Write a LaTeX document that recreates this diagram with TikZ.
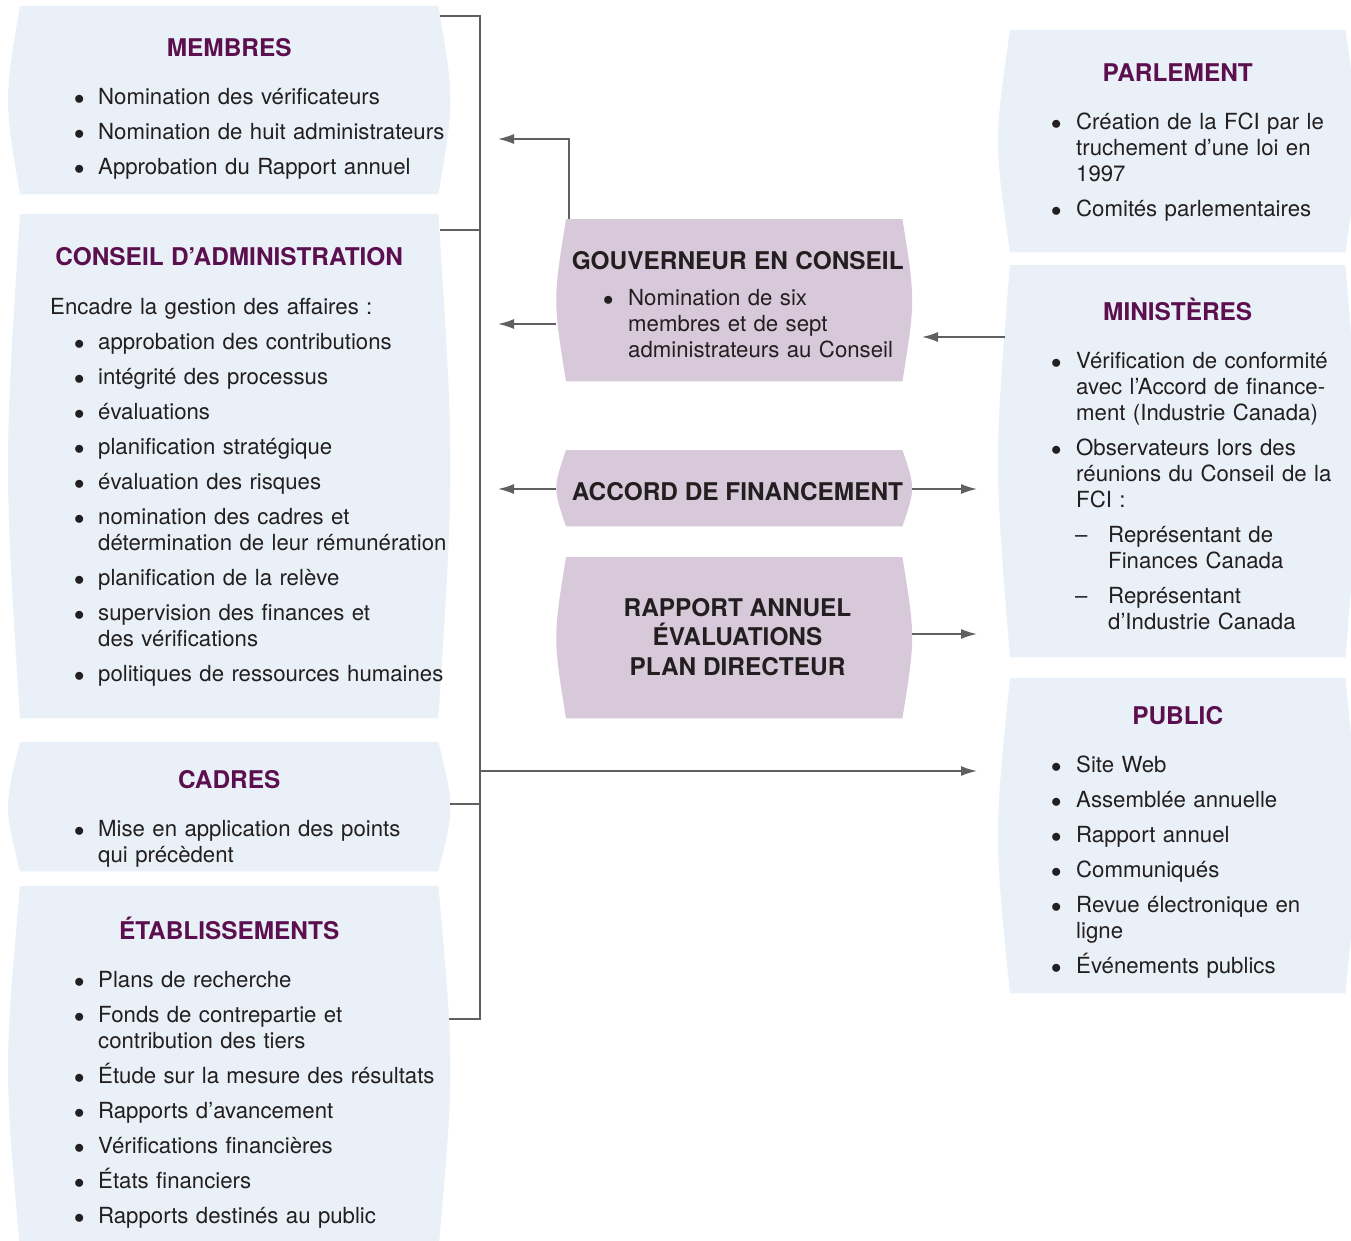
\documentclass[tikz,border=0pt]{standalone}
\usepackage{fontspec}
\setmainfont{TeX Gyre Heros}
\usepackage{tikz}
\usetikzlibrary{calc,positioning,arrows.meta}
\definecolor{boxblue}{HTML}{E9F0F7}
\definecolor{boxmauve}{HTML}{D7C9D9}
\definecolor{titlepurple}{HTML}{5C0F4E}
\definecolor{linegray}{HTML}{606060}
\definecolor{textdark}{HTML}{231F20}
\tikzset{>={Latex[length=16pt,width=10pt]}}
\tikzset{
  frame/.style={anchor=north west, inner sep=0pt},
  txt/.style={anchor=base west, inner sep=0pt, text width=480pt, align=left,
    font=\fontsize{22.2}{26}\selectfont\color{textdark}},
  ctxt/.style={anchor=base, inner sep=0pt, align=center,
    font=\fontsize{24.4}{29.5}\selectfont\bfseries\color{textdark}},
  link/.style={draw=linegray, line width=1.6pt},
  arr/.style={link, ->},
}
% box with bulging sides
\newcommand\bulge[3]{\fill[#2] (#1.north west) .. controls ($(#1.west)+(-#3,0)$) .. (#1.south west)
  -- (#1.south east) .. controls ($(#1.east)+(#3,0)$) .. (#1.north east) -- cycle;}
\newlength\bulx
\newlength\txtx
\newcommand\ttl[2]{\noindent\makebox[#1]{\fontsize{24.4}{26}\selectfont\bfseries\color{titlepurple}#2}\par\vspace{13pt}}
\newcommand\itm[1]{\par\vspace{9pt}\hangindent=\txtx\hangafter=1\noindent\hspace*{\bulx}\makebox[\dimexpr\txtx-\bulx\relax][l]{$\bullet$}#1}
\newcommand\sitm[1]{\par\vspace{9pt}\hangindent=98pt\hangafter=1\noindent\hspace*{65pt}\makebox[33pt][l]{–}#1}

\begin{document}
\begin{tikzpicture}[x=1pt,y=-1pt]
\useasboundingbox (0,0) rectangle (1351,1240);

% left column
\node[frame, minimum width=418pt, minimum height=188pt] (membres) at (20,6) {};
\node[frame, minimum width=418pt, minimum height=504pt] (conseil) at (20,214) {};
\node[frame, minimum width=418pt, minimum height=129pt] (cadres) at (20,742) {};
\node[frame, minimum width=418pt, minimum height=364pt] (etab) at (20,886) {};
\bulge{membres}{boxblue}{16}
\bulge{conseil}{boxblue}{16}
\bulge{cadres}{boxblue}{16}
\bulge{etab}{boxblue}{16}

% right column
\node[frame, minimum width=335pt, minimum height=222pt] (parlement) at (1010,30) {};
\node[frame, minimum width=335pt, minimum height=392pt] (ministeres) at (1010,265) {};
\node[frame, minimum width=335pt, minimum height=315pt] (public) at (1010,678) {};
\bulge{parlement}{boxblue}{16}
\bulge{ministeres}{boxblue}{16}
\bulge{public}{boxblue}{16}

% middle column
\node[frame, minimum width=336pt, minimum height=162pt] (gouv) at (566,219) {};
\node[frame, minimum width=336pt, minimum height=76pt] (accord) at (566,450) {};
\node[frame, minimum width=336pt, minimum height=161pt] (rapport) at (566,557) {};
\bulge{gouv}{boxmauve}{13}
\bulge{accord}{boxmauve}{13}
\bulge{rapport}{boxmauve}{13}

% texts
\node[txt] (membres-t) at (20,56) {\setlength\bulx{54pt}\setlength\txtx{78pt}%
  \ttl{418pt}{MEMBRES}
  \itm{Nomination des vérificateurs}
  \itm{Nomination de huit administrateurs}
  \itm{Approbation du Rapport annuel}\par};
\node[txt] (conseil-t) at (20,265) {\setlength\bulx{54pt}\setlength\txtx{78pt}%
  \ttl{418pt}{CONSEIL D’ADMINISTRATION}
  \vspace{10pt}\noindent\hspace*{30pt}Encadre la gestion des affaires~:
  \itm{approbation des contributions}
  \itm{intégrité des processus}
  \itm{évaluations}
  \itm{planification stratégique}
  \itm{évaluation des risques}
  \itm{nomination des cadres et\newline détermination de leur rémunération}
  \itm{planification de la relève}
  \itm{supervision des finances et\newline des vérifications}
  \itm{politiques de ressources humaines}\par};
\node[txt] (cadres-t) at (20,788) {\setlength\bulx{54pt}\setlength\txtx{78pt}%
  \ttl{418pt}{CADRES}
  \itm{Mise en application des points\newline qui précèdent}\par};
\node[txt] (etab-t) at (20,939) {\setlength\bulx{54pt}\setlength\txtx{78pt}%
  \ttl{418pt}{ÉTABLISSEMENTS}
  \itm{Plans de recherche}
  \itm{Fonds de contrepartie et\newline contribution des tiers}
  \itm{Étude sur la mesure des résultats}
  \itm{Rapports d’avancement}
  \itm{Vérifications financières}
  \itm{États financiers}
  \itm{Rapports destinés au public}\par};

\node[txt] (parlement-t) at (1010,81) {\setlength\bulx{41pt}\setlength\txtx{66pt}%
  \ttl{335pt}{PARLEMENT}
  \itm{Création de la FCI par le\newline truchement d’une loi en\newline 1997}
  \itm{Comités parlementaires}\par};
\node[txt] (ministeres-t) at (1010,320) {\setlength\bulx{41pt}\setlength\txtx{66pt}%
  \ttl{335pt}{MINISTÈRES}
  \itm{Vérification de conformité\newline avec l’Accord de finance-\newline ment (Industrie Canada)}
  \itm{Observateurs lors des\newline réunions du Conseil de la\newline FCI~:}
  \sitm{Représentant de\newline Finances Canada}
  \sitm{Représentant\newline d’Industrie Canada}\par};
\node[txt] (public-t) at (1010,724) {\setlength\bulx{41pt}\setlength\txtx{66pt}%
  \ttl{335pt}{PUBLIC}
  \itm{Site Web}
  \itm{Assemblée annuelle}
  \itm{Rapport annuel}
  \itm{Communiqués}
  \itm{Revue électronique en\newline ligne}
  \itm{Événements publics}\par};

\node[txt] (gouv-t) at (566,269) {\setlength\bulx{37pt}\setlength\txtx{62pt}%
  \noindent\makebox[343pt]{\fontsize{24.4}{26}\selectfont\bfseries GOUVERNEUR EN CONSEIL}\par\vspace{1pt}
  \itm{Nomination de six\newline membres et de sept\newline administrateurs au Conseil}\par};
\node[ctxt] (accord-t) at (737.5,500) {ACCORD DE FINANCEMENT};
\node[ctxt] (rapport-t) at (737.5,675) {RAPPORT ANNUEL\\ÉVALUATIONS\\PLAN DIRECTEUR};

% connectors
\coordinate (br1) at (480,16);
\coordinate (br2) at (480,230);
\coordinate (br3) at (480,804);
\coordinate (br4) at (480,1019);
\coordinate (br5) at (480,771);
\coordinate (g-up) at (498,139);
\coordinate (g-left) at (498,324);
\coordinate (m-out) at (922,337);
\coordinate (a-left) at (498,489);
\coordinate (a-right) at (977,489);
\coordinate (r-right) at (977,634);
\coordinate (p-in) at (977,771);

\draw[link] ([xshift=2pt]br1 -| membres.east) -- (br1) -- (br4) -- ([xshift=11pt]br4 -| etab.east);
\draw[link] ([xshift=2pt]br2 -| conseil.east) -- (br2);
\draw[link] ([xshift=12pt]br3 -| cadres.east) -- (br3);
\draw[arr] (br5) -- (p-in);
\draw[arr] ([xshift=3pt]gouv.north west) |- (g-up);
\draw[arr] ([xshift=-10pt]g-left -| gouv.west) -- (g-left);
\draw[arr] ([xshift=-5pt]m-out -| ministeres.west) -- (m-out);
\draw[arr] ([xshift=-10pt]a-left -| accord.west) -- (a-left);
\draw[arr] ([xshift=10pt]a-right -| accord.east) -- (a-right);
\draw[arr] ([xshift=10pt]r-right -| rapport.east) -- (r-right);
\end{tikzpicture}
\end{document}
